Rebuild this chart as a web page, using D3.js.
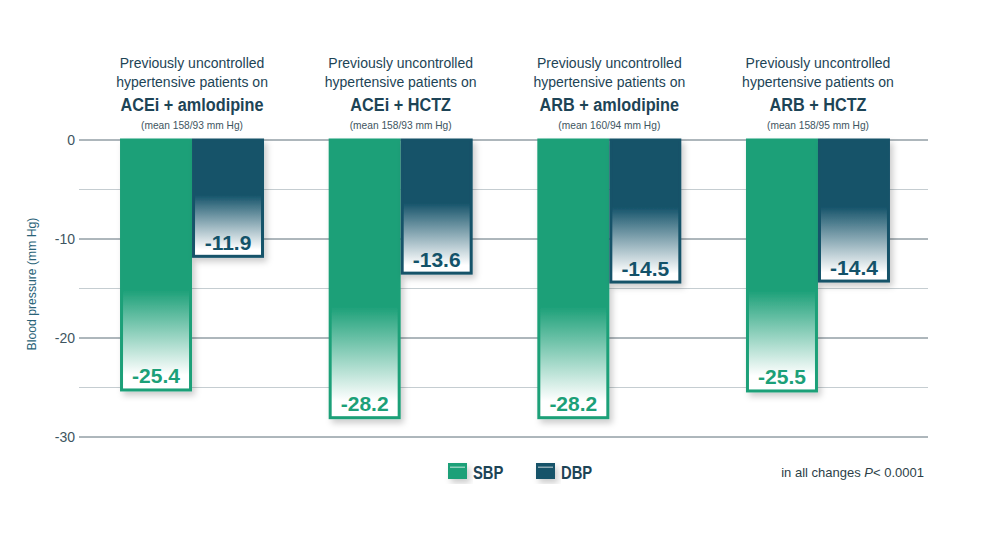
<!DOCTYPE html>
<html><head><meta charset="utf-8">
<script src="https://cdn.jsdelivr.net/npm/d3@7"></script>
<style>
body{margin:0;background:#fff;}
svg{display:block;}
text{font-family:"Liberation Sans",Arial,Helvetica,sans-serif;}
</style></head>
<body>
<script>
const categories = ["ACEi + amlodipine","ACEi + HCTZ","ARB + amlodipine","ARB + HCTZ"];
const baselines = ["(mean 158/93 mm Hg)","(mean 158/93 mm Hg)","(mean 160/94 mm Hg)","(mean 158/95 mm Hg)"];
const series = ["SBP","DBP"];
const sbp = [-25.4,-28.2,-28.2,-25.5];
const dbp = [-11.9,-13.6,-14.5,-14.4];
const yTicks = [0,-10,-20,-30];
const minorTicks = [-5,-15,-25];

const W=1000,H=538;
const colors = {SBP:"#1ca078", DBP:"#135269"};
const gradStart = {SBP:0.6, DBP:0.47};

const svg = d3.select("body").append("svg").attr("width",W).attr("height",H);
const defs = svg.append("defs");
const f = defs.append("filter").attr("id","sh").attr("x","-20%").attr("y","-20%").attr("width","150%").attr("height","150%");
f.append("feDropShadow").attr("dx",3).attr("dy",4).attr("stdDeviation",3).attr("flood-color","#000").attr("flood-opacity",0.2);
series.forEach(s=>{
  const g = defs.append("linearGradient").attr("id","g"+s).attr("x1",0).attr("y1",0).attr("x2",0).attr("y2",1);
  g.append("stop").attr("offset",0).attr("stop-color",colors[s]);
  g.append("stop").attr("offset",gradStart[s]).attr("stop-color",colors[s]);
  g.append("stop").attr("offset",0.94).attr("stop-color","#ffffff");
  g.append("stop").attr("offset",1).attr("stop-color","#ffffff");
});

const y = d3.scaleLinear().domain([0,-30]).range([140,437]);
const x0 = d3.scaleBand().domain(categories).range([87.7,922.3]);
const x1 = d3.scaleBand().domain(series).range([x0.bandwidth()/2-72, x0.bandwidth()/2+72]);

// grid
svg.append("g").selectAll("line").data(minorTicks).join("line")
  .attr("x1",79).attr("x2",928).attr("y1",d=>y(d)).attr("y2",d=>y(d))
  .attr("stroke","#c5cdd1").attr("stroke-width",1);
svg.append("g").selectAll("line").data(yTicks).join("line")
  .attr("x1",79).attr("x2",928).attr("y1",d=>y(d)).attr("y2",d=>y(d))
  .attr("stroke","#5c6f78").attr("stroke-width",1);
svg.append("g").selectAll("text").data(yTicks).join("text")
  .attr("x",75).attr("y",d=>y(d)+5).attr("text-anchor","end")
  .attr("font-size",14).attr("fill","#3e5561").text(d=>d);
svg.append("text").attr("transform","translate(36,284) rotate(-90)")
  .attr("text-anchor","middle").attr("font-size",12.2).attr("fill","#2a6378")
  .text("Blood pressure (mm Hg)");

// titles
const tg = svg.append("g").selectAll("g").data(categories).join("g")
  .attr("transform",d=>`translate(${x0(d)+x0.bandwidth()/2},0)`);
tg.append("text").attr("y",68).attr("text-anchor","middle").attr("font-size",14).attr("fill","#1d4456").text("Previously uncontrolled");
tg.append("text").attr("y",87).attr("text-anchor","middle").attr("font-size",14).attr("fill","#1d4456").text("hypertensive patients on");
tg.append("text").attr("transform","translate(0,111) scale(0.93,1)").attr("text-anchor","middle").attr("font-size",17.5).attr("font-weight","bold").attr("fill","#1d4456").text(d=>d);
tg.append("text").attr("y",129).attr("text-anchor","middle").attr("font-size",10.2).attr("fill","#3e5561").text((d,i)=>baselines[i]);

// bars
const data = [];
categories.forEach((c,i)=>{ data.push({c,s:"SBP",v:sbp[i]}); data.push({c,s:"DBP",v:dbp[i]}); });
const bg = svg.append("g");
bg.selectAll("rect").data(data).join("rect")
  .attr("x",d=>x0(d.c)+x1(d.s)+1.5).attr("y",y(0))
  .attr("width",x1.bandwidth()-3).attr("height",d=>y(d.v)-y(0)-1.5)
  .attr("fill",d=>`url(#g${d.s})`).attr("stroke",d=>colors[d.s]).attr("stroke-width",3)
  .attr("filter","url(#sh)");
bg.selectAll("text").data(data).join("text")
  .attr("x",d=>x0(d.c)+x1(d.s)+x1.bandwidth()/2).attr("y",d=>y(d.v)-8)
  .attr("text-anchor","middle").attr("font-size",21).attr("font-weight","bold")
  .attr("fill",d=>colors[d.s]).text(d=>d.v.toFixed(1));

// legend
const leg = svg.append("g").selectAll("g").data(series).join("g")
  .attr("transform",(d,i)=>`translate(${448+i*88},463)`);
leg.append("rect").attr("width",19).attr("height",16).attr("fill",d=>colors[d]).attr("filter","url(#sh)");
leg.append("rect").attr("x",2).attr("y",3.5).attr("width",15).attr("height",1.5).attr("fill","#fff").attr("opacity",0.5);
leg.append("text").attr("transform","translate(25,16) scale(0.8,1)").attr("font-size",18.5).attr("font-weight","bold").attr("fill","#1d4456").text(d=>d);

const note = svg.append("text").attr("x",924).attr("y",477).attr("text-anchor","end").attr("font-size",13).attr("fill","#2d3f48");
note.append("tspan").text("in all changes ");
note.append("tspan").attr("font-style","italic").text("P");
note.append("tspan").text("< 0.0001");
</script>
</body></html>
